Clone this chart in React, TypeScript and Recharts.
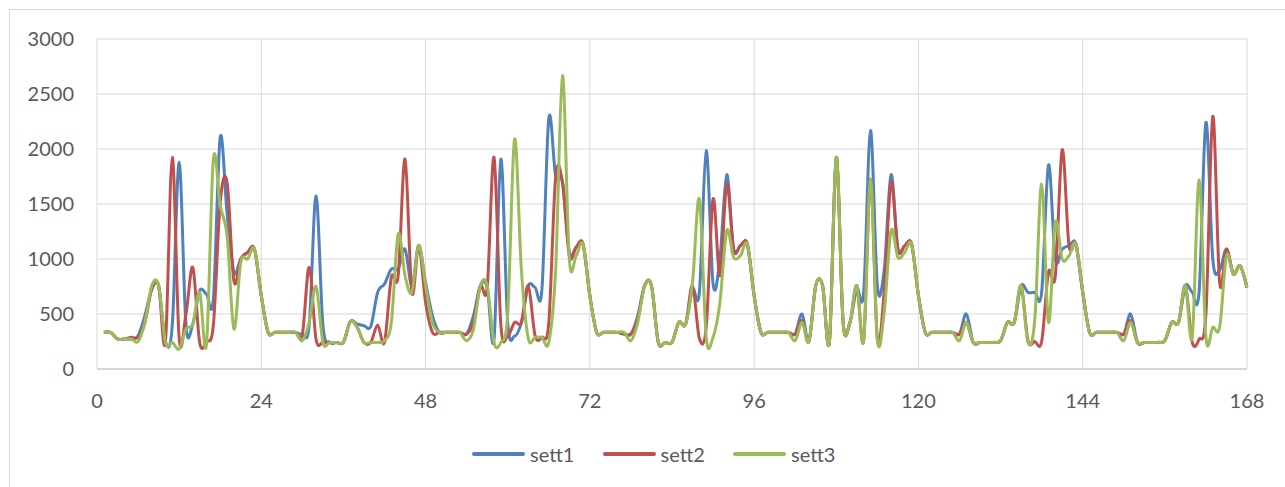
import React from 'react';
import { LineChart, Line, XAxis, YAxis, CartesianGrid, Legend } from 'recharts';

const hours: number[] = Array.from({ length: 168 }, (_, i) => i + 1);

const sett1: number[] = [
  333, 333, 273, 273, 273, 303, 485, 727, 757, 250, 400, 1879, 400, 409, 712, 680, 640, 2106, 1420, 879, 1000, 1060, 1090, 667,
  333, 333, 333, 333, 333, 318, 400, 1576, 400, 242, 242, 242, 430, 409, 394, 388, 697, 773, 909, 909, 1090, 757, 1121, 788,
  485, 333, 333, 333, 333, 318, 485, 757, 742, 270, 1909, 420, 300, 424, 757, 742, 727, 2279, 1757, 1697, 1060, 1106, 1136, 667,
  333, 333, 333, 333, 318, 318, 485, 757, 757, 242, 242, 242, 424, 409, 727, 697, 1985, 773, 1000, 1767, 1090, 1121, 1136, 667,
  333, 333, 333, 333, 333, 318, 500, 250, 757, 757, 250, 1924, 424, 424, 730, 697, 2167, 757, 900, 1767, 1090, 1121, 1136, 667,
  333, 333, 333, 333, 333, 318, 500, 242, 242, 242, 242, 258, 424, 424, 757, 697, 697, 697, 1854, 1000, 1090, 1121, 1136, 700,
  333, 333, 333, 333, 333, 318, 500, 242, 242, 242, 242, 258, 424, 424, 757, 697, 697, 2242, 1000, 897, 1090, 864, 939, 742,
];

const sett2: number[] = [
  333, 333, 273, 273, 288, 288, 424, 727, 757, 250, 1924, 280, 500, 924, 240, 250, 400, 1515, 1697, 800, 1000, 1060, 1090, 667,
  333, 333, 333, 333, 333, 318, 924, 270, 242, 242, 242, 242, 430, 380, 242, 242, 400, 242, 833, 850, 1909, 697, 1121, 606,
  333, 333, 333, 333, 333, 318, 424, 757, 742, 1924, 400, 300, 424, 424, 757, 303, 288, 420, 1742, 1697, 1030, 1106, 1136, 667,
  333, 333, 333, 333, 318, 318, 455, 757, 757, 242, 242, 242, 424, 409, 757, 280, 380, 1545, 848, 1681, 1090, 1121, 1136, 667,
  333, 333, 333, 333, 333, 318, 440, 250, 757, 757, 250, 1924, 424, 424, 757, 260, 1727, 270, 700, 1697, 1090, 1121, 1136, 667,
  333, 333, 333, 333, 333, 318, 424, 242, 242, 242, 242, 258, 424, 424, 757, 258, 250, 250, 879, 848, 1994, 1121, 1136, 700,
  333, 333, 333, 333, 333, 318, 440, 242, 242, 242, 242, 258, 424, 424, 757, 242, 270, 500, 2297, 788, 1090, 864, 939, 742,
];

const sett3: number[] = [
  333, 333, 273, 273, 273, 250, 424, 757, 757, 242, 242, 182, 363, 409, 697, 227, 1909, 1485, 1212, 363, 970, 1000, 1090, 667,
  333, 333, 333, 333, 333, 258, 424, 750, 242, 242, 242, 242, 430, 380, 242, 242, 242, 258, 424, 1227, 848, 697, 1127, 760,
  424, 333, 333, 333, 333, 258, 363, 757, 757, 242, 242, 500, 2090, 900, 280, 288, 288, 242, 900, 2667, 1000, 1030, 1136, 667,
  333, 333, 333, 333, 333, 258, 424, 757, 757, 242, 242, 242, 424, 409, 788, 1545, 290, 290, 606, 1257, 1015, 1030, 1136, 667,
  333, 333, 333, 333, 333, 258, 424, 250, 757, 757, 250, 1924, 424, 424, 757, 260, 1727, 270, 515, 1257, 1015, 1060, 1136, 667,
  333, 333, 333, 333, 333, 258, 424, 242, 242, 242, 242, 258, 424, 424, 757, 242, 450, 1682, 424, 1333, 1000, 1030, 1136, 700,
  333, 333, 333, 333, 333, 258, 424, 242, 242, 242, 242, 258, 424, 424, 757, 290, 1721, 290, 379, 379, 1030, 864, 939, 742,
];

const xTicks: number[] = [0, 24, 48, 72, 96, 120, 144, 168];
const yTicks: number[] = [0, 500, 1000, 1500, 2000, 2500, 3000];

const seriesNames = ['sett1', 'sett2', 'sett3'];
const seriesColors = ['#4F81BD', '#C0504D', '#9BBB59'];

const data = hours.map((h, i) => ({ h, sett1: sett1[i], sett2: sett2[i], sett3: sett3[i] }));

// Excel-like smoothed line (uniform Catmull-Rom as cubic Bezier)
function excelSmooth(context: any) {
  let pts: number[][] = [];
  let area = false;
  let count = 0;
  return {
    areaStart() { area = true; count = 0; },
    areaEnd() { area = false; },
    lineStart() { pts = []; },
    lineEnd() {
      const n = pts.length;
      if (!n) return;
      if (area && count > 0) context.lineTo(pts[0][0], pts[0][1]);
      else context.moveTo(pts[0][0], pts[0][1]);
      count++;
      for (let i = 0; i < n - 1; i++) {
        const p0 = pts[i > 0 ? i - 1 : i];
        const p1 = pts[i];
        const p2 = pts[i + 1];
        const p3 = pts[i + 2 < n ? i + 2 : i + 1];
        context.bezierCurveTo(
          p1[0] + (p2[0] - p0[0]) / 6, p1[1] + (p2[1] - p0[1]) / 6,
          p2[0] - (p3[0] - p1[0]) / 6, p2[1] - (p3[1] - p1[1]) / 6,
          p2[0], p2[1]
        );
      }
    },
    point(x: number, y: number) { pts.push([+x, +y]); },
  };
}

const tickStyle = { fill: '#595959', fontSize: 20, fontFamily: 'Lato, "Open Sans", sans-serif' };

function LegendContent() {
  return (
    <div style={{ position: 'relative', height: 24, fontFamily: 'Lato, "Open Sans", sans-serif' }}>
      {seriesNames.map((name, i) => (
        <div
          key={name}
          style={{
            position: 'absolute',
            left: 472 + i * 130.5,
            top: 0,
            height: 24,
            display: 'flex',
            alignItems: 'center',
          }}
        >
          <div style={{ width: 53, height: 4, borderRadius: 2, background: seriesColors[i], marginRight: 5 }} />
          <span style={{ fontSize: 20, color: '#595959', lineHeight: '24px' }}>{name}</span>
        </div>
      ))}
    </div>
  );
}

export default function App() {
  return (
    <div style={{ position: 'absolute', left: 0, top: 0, width: 1285, height: 487, overflow: 'hidden', background: '#fff' }}>
      <div style={{ position: 'absolute', left: 9, top: 9, width: 1300, height: 500, border: '1px solid #d9d9d9', boxSizing: 'border-box' }} />
      <div style={{ position: 'absolute', left: 0, top: 0 }}>
        <LineChart width={1285} height={487} data={data} margin={{ top: 39, right: 38, bottom: 88, left: 37 }}>
          <CartesianGrid stroke="#d9d9d9" strokeWidth={1} />
          <XAxis
            type="number"
            dataKey="h"
            domain={[0, 168]}
            ticks={xTicks}
            interval={0}
            height={30}
            tickLine={false}
            tickSize={0}
            tickMargin={25}
            axisLine={{ stroke: '#bfbfbf', strokeWidth: 1 }}
            tick={tickStyle}
          />
          <YAxis
            type="number"
            domain={[0, 3000]}
            ticks={yTicks}
            interval={0}
            width={60}
            axisLine={false}
            tickLine={false}
            tickSize={0}
            tickMargin={23}
            tick={tickStyle}
          />
          {seriesNames.map((name, i) => (
            <Line
              key={name}
              dataKey={name}
              name={name}
              type={excelSmooth as any}
              stroke={seriesColors[i]}
              strokeWidth={3}
              dot={false}
              activeDot={false}
              isAnimationActive={false}
            />
          ))}
          <Legend
            verticalAlign="middle"
            align="center"
            layout="horizontal"
            content={() => <LegendContent />}
            wrapperStyle={{ left: 0, top: 442, width: 1285, height: 24 }}
          />
        </LineChart>
      </div>
    </div>
  );
}
